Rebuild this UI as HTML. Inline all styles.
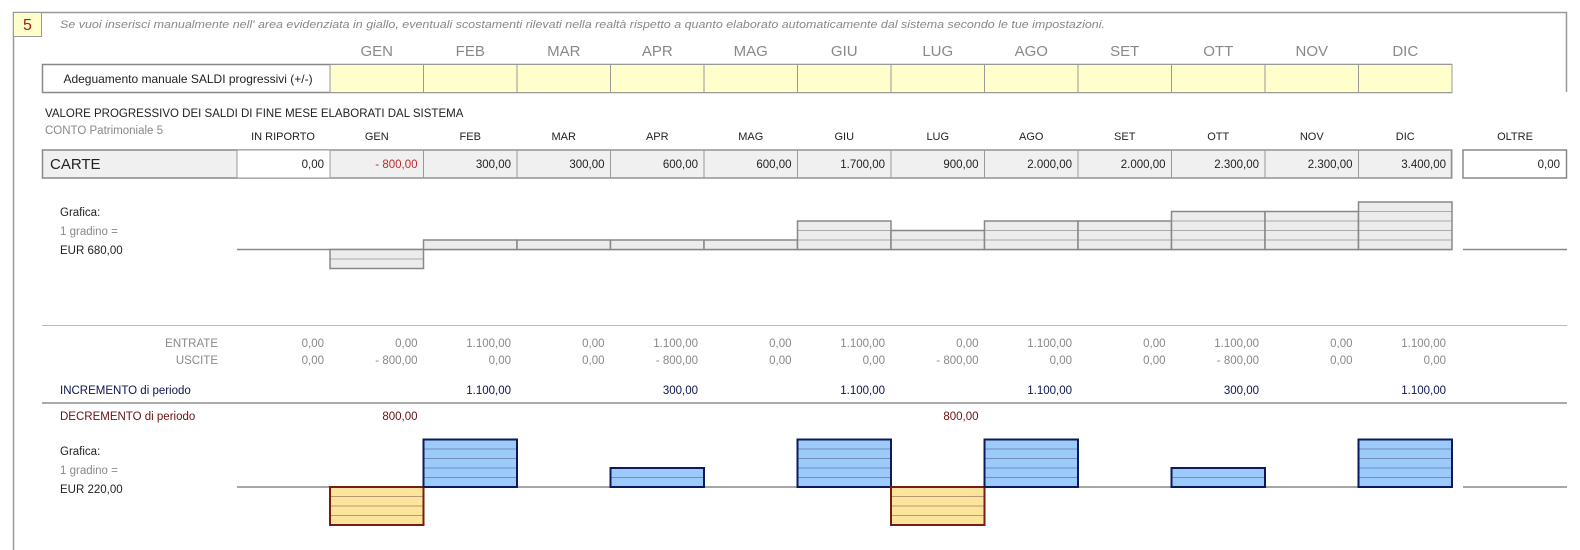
<!DOCTYPE html>
<html><head><meta charset="utf-8"><style>
html,body{margin:0;padding:0;background:#fff;width:1580px;height:550px;overflow:hidden}
svg{display:block;font-family:"Liberation Sans",sans-serif}
</style></head><body>
<svg id="s" width="1580" height="550" xmlns="http://www.w3.org/2000/svg"></svg>
<script>
const months=["GEN","FEB","MAR","APR","MAG","GIU","LUG","AGO","SET","OTT","NOV","DIC"];
const saldi=[-800,300,300,600,600,1700,900,2000,2000,2300,2300,3400];
const entrate=[0,1100,0,1100,0,1100,0,1100,0,1100,0,1100];
const uscite=[-800,0,0,-800,0,0,-800,0,0,-800,0,0];
const riporto=0, oltre=0;
const step1=680, step2=220;

const S=document.getElementById('s');
const NS="http://www.w3.org/2000/svg";
function el(t,a,p){const e=document.createElementNS(NS,t);for(const k in a)e.setAttribute(k,a[k]);(p||S).appendChild(e);return e;}
function tx(x,y,s,o){o=o||{};const e=el('text',Object.assign({x:x,y:y,'font-size':o.fs||12,fill:o.c||'#222','text-anchor':o.a||'start'},o.attr||{}));e.textContent=s;return e;}
function fmt(v){const n=Math.abs(v);const int=Math.floor(n).toString().replace(/\B(?=(\d{3})+(?!\d))/g,'.');return (v<0?'- ':'')+int+',00';}
const X0=330,CW=93.5;
function cx(i){return X0+i*CW;}
const PX=9.5;

// frame
let f=el('path',{d:'M13.5 550 V12.5 H1566.5 V92',fill:'none',stroke:'#999','stroke-width':1.5});

let b=el('rect',{x:13.5,y:12.5,width:28,height:24,fill:'#ffffcc',stroke:'#999'});

let t=tx(27.5,30,'5',{fs:16,c:'#a02010',a:'middle'});

t=tx(60,28,"Se vuoi inserisci manualmente nell' area evidenziata in giallo, eventuali scostamenti rilevati nella realtà rispetto a quanto elaborato automaticamente dal sistema secondo le tue impostazioni.",{fs:11,c:'#888',attr:{'font-style':'italic',textLength:1045,lengthAdjust:'spacingAndGlyphs'}});


// month header + yellow row
let r=el('rect',{x:42.5,y:64.5,width:1409,height:28,fill:'#fff',stroke:'#888','stroke-width':1.5});

t=tx(188,83,'Adeguamento manuale SALDI progressivi (+/-)',{a:'middle'});

months.forEach((m,i)=>{
  let h=tx(cx(i)+CW/2,56,m,{fs:15,c:'#888',a:'middle'});
  
  let c=el('rect',{x:cx(i),y:64.5,width:CW,height:28,fill:'#ffffcc',stroke:'#999'});
  
});

t=tx(45,117,'VALORE PROGRESSIVO DEI SALDI DI FINE MESE ELABORATI DAL SISTEMA',{fs:11.5});

t=tx(45,134,'CONTO Patrimoniale 5',{fs:11.5,c:'#888'});

t=tx(283,140,'IN RIPORTO',{fs:11,a:'middle'});

t=tx(1515,140,'OLTRE',{fs:11,a:'middle'});


// CARTE row
r=el('rect',{x:42.5,y:150,width:1409,height:28,fill:'#f0f0f0',stroke:'#888','stroke-width':1.5});

t=tx(50,169,'CARTE',{fs:15});

r=el('rect',{x:237,y:150,width:93,height:28,fill:'#fff',stroke:'#999'});

t=tx(324,168,fmt(riporto),{fs:11.5,a:'end'});

r=el('rect',{x:1463,y:150,width:103.5,height:28,fill:'#fff',stroke:'#888','stroke-width':1.5});

t=tx(1560,168,fmt(oltre),{fs:11.5,a:'end'});

months.forEach((m,i)=>{
  let h=tx(cx(i)+CW/2,140,m,{fs:11,a:'middle'});
  
  let c=el('rect',{x:cx(i),y:150,width:CW,height:28,fill:'none',stroke:'#999'});
  
  let v=tx(cx(i)+CW-6,168,fmt(saldi[i]),{fs:11.5,c:saldi[i]<0?'#c0282a':'#222',a:'end'});
  
});

function labels(y,val,pref){
  let a=tx(60,y,'Grafica:',{fs:11.5});
  a=tx(60,y+19,'1 gradino =',{fs:11.5,c:'#888'});
  a=tx(60,y+38,'EUR '+fmt(val),{fs:11.5});
}
function chart(base,vals,stepv,pref,colors){
  let l=el('line',{x1:237,x2:1452,y1:base,y2:base,stroke:'#888','stroke-width':1.5});
  
  l=el('line',{x1:1463,x2:1567,y1:base,y2:base,stroke:'#888','stroke-width':1.5});
  
  vals.forEach((v,i)=>{
    if(v===0)return;
    const n=Math.ceil(Math.abs(v)/stepv);const h=n*PX;
    const c=v>0?colors.pos:colors.neg;
    const y=v>0?base-h:base;
    const g=el('g',{});
    
    el('rect',{x:cx(i),y:y,width:CW,height:h,fill:c.fill},g);
    for(let k=1;k<n;k++){el('line',{x1:cx(i),x2:cx(i)+CW,y1:y+k*PX,y2:y+k*PX,stroke:c.grid,'stroke-width':1},g);}
    el('rect',{x:cx(i),y:y,width:CW,height:h,fill:'none',stroke:c.stroke,'stroke-width':c.sw},g);
  });
}
labels(216,step1,'saldi-chart');
chart(249.5,saldi,step1,'saldi-chart',{pos:{fill:'#ececec',grid:'#aaa',stroke:'#888',sw:1.5},neg:{fill:'#ececec',grid:'#aaa',stroke:'#888',sw:1.5}});

let ln=el('line',{x1:42,x2:1567,y1:325.5,y2:325.5,stroke:'#bbb','stroke-width':1});

t=tx(218,347,'ENTRATE',{fs:11.5,c:'#888',a:'end'});
t=tx(218,364,'USCITE',{fs:11.5,c:'#888',a:'end'});
t=tx(324,347,fmt(0),{fs:11.5,c:'#888',a:'end'});
t=tx(324,364,fmt(0),{fs:11.5,c:'#888',a:'end'});
t=tx(60,394,'INCREMENTO di periodo',{fs:11.5,c:'#0c1450'});
ln=el('line',{x1:42,x2:1567,y1:403,y2:403,stroke:'#aaa','stroke-width':2});

t=tx(60,420,'DECREMENTO di periodo',{fs:11.5,c:'#6a1010'});
const delta=months.map((m,i)=>entrate[i]+uscite[i]);
months.forEach((m,i)=>{
  const x=cx(i)+CW-6,k=m.toLowerCase();
  let a=tx(x,347,fmt(entrate[i]),{fs:11.5,c:'#888',a:'end'});
  a=tx(x,364,fmt(uscite[i]),{fs:11.5,c:'#888',a:'end'});
  if(delta[i]>0){a=tx(x,394,fmt(delta[i]),{fs:11.5,c:'#0c1450',a:'end'});}
  if(delta[i]<0){a=tx(x,420,fmt(-delta[i]),{fs:11.5,c:'#6a1010',a:'end'});}
});
labels(455,step2,'delta-chart');
chart(487,delta,step2,'delta-chart',{pos:{fill:'#9ccbfb',grid:'#6f8fb8',stroke:'#0c1a5c',sw:2},neg:{fill:'#fde49c',grid:'#b89a70',stroke:'#7a1c10',sw:2}});
</script>
</body></html>
